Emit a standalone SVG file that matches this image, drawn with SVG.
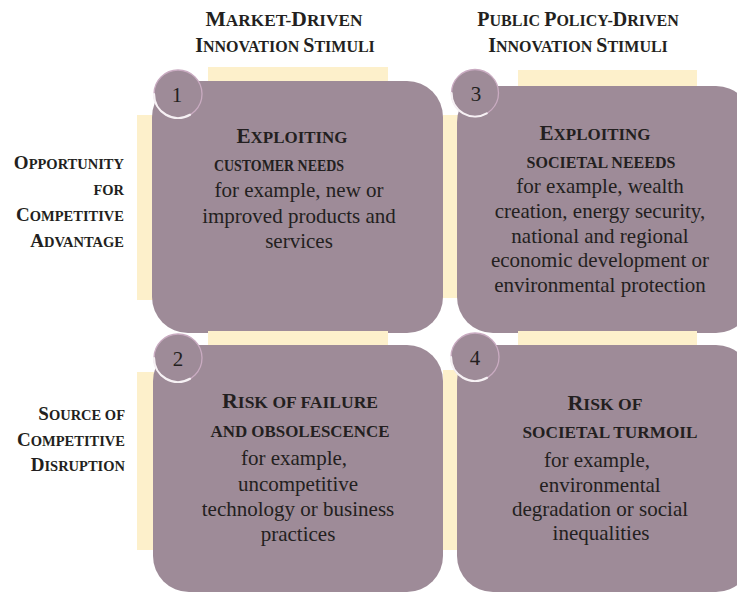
<svg xmlns="http://www.w3.org/2000/svg" width="737" height="594" viewBox="0 0 737 594">
<style>
.box{fill:#9e8b98}
.strip{fill:#fdf0cb}
.badge{fill:#9e8b98;stroke:#c9abc1;stroke-width:1.3}
.hl{fill:none;stroke:#f6f1f4;stroke-width:2.2;stroke-linecap:round}
text{font-family:"Liberation Serif","Times New Roman",serif;fill:#231f20}
.h{font-weight:bold;text-anchor:middle}
.lbl{font-weight:bold;text-anchor:end}
.b{font-size:21px;text-anchor:middle}
.num{font-size:21px;text-anchor:middle}
.L{font-size:20px}
.S{font-size:16px}
.l{font-size:19px}
.s{font-size:14.5px}
</style>
<g id="header-market">
<text class="h" x="284" y="26" textLength="157" lengthAdjust="spacingAndGlyphs"><tspan class="L">M</tspan><tspan class="S">ARKET-</tspan><tspan class="L">D</tspan><tspan class="S">RIVEN</tspan></text>
<text class="h" x="285" y="52"><tspan class="L">I</tspan><tspan class="S">NNOVATION </tspan><tspan class="L">S</tspan><tspan class="S">TIMULI</tspan></text>
</g>
<g id="header-policy">
<text class="h" x="578" y="26"><tspan class="L">P</tspan><tspan class="S">UBLIC </tspan><tspan class="L">P</tspan><tspan class="S">OLICY-</tspan><tspan class="L">D</tspan><tspan class="S">RIVEN</tspan></text>
<text class="h" x="578" y="52"><tspan class="L">I</tspan><tspan class="S">NNOVATION </tspan><tspan class="L">S</tspan><tspan class="S">TIMULI</tspan></text>
</g>
<g id="label-opportunity">
<text class="lbl" x="124" y="169"><tspan class="l">O</tspan><tspan class="s">PPORTUNITY</tspan></text>
<text class="lbl" x="124" y="195"><tspan class="s">FOR</tspan></text>
<text class="lbl" x="124" y="221"><tspan class="l">C</tspan><tspan class="s">OMPETITIVE</tspan></text>
<text class="lbl" x="124" y="247"><tspan class="l">A</tspan><tspan class="s">DVANTAGE</tspan></text>
</g>
<g id="label-disruption">
<text class="lbl" x="125" y="420"><tspan class="l">S</tspan><tspan class="s">OURCE OF</tspan></text>
<text class="lbl" x="125" y="446"><tspan class="l">C</tspan><tspan class="s">OMPETITIVE</tspan></text>
<text class="lbl" x="125" y="471"><tspan class="l">D</tspan><tspan class="s">ISRUPTION</tspan></text>
</g>
<g id="quadrant-1">
<rect class="strip" x="208" y="67" width="180" height="16"/>
<rect class="strip" x="137" y="115" width="17" height="185"/>
<rect class="box" x="152" y="81" width="291" height="252" rx="36"/>
<circle class="badge" cx="178" cy="94" r="24"/>
<path class="hl" d="M154,94 A24,24 0 0 0 190,114.8"/>
<text class="num" x="177" y="102">1</text>
<text class="h" x="292" y="143" textLength="111" lengthAdjust="spacingAndGlyphs"><tspan class="L">E</tspan><tspan class="S">XPLOITING</tspan></text>
<text class="h" x="279" y="171" textLength="130" lengthAdjust="spacingAndGlyphs"><tspan class="S">CUSTOMER NEEDS</tspan></text>
<text class="b" x="299" y="197">for example, new or</text>
<text class="b" x="299" y="223">improved products and</text>
<text class="b" x="299" y="248">services</text>
</g>
<g id="quadrant-3">
<rect class="strip" x="518" y="70" width="179" height="18"/>
<rect class="strip" x="443" y="115" width="16" height="183"/>
<rect class="box" x="457" y="86" width="295" height="247" rx="36"/>
<circle class="badge" cx="475" cy="93" r="23.5"/>
<path class="hl" d="M451.5,93 A23.5,23.5 0 0 0 486.75,113.35"/>
<text class="num" x="476" y="101">3</text>
<text class="h" x="595" y="140" textLength="111" lengthAdjust="spacingAndGlyphs"><tspan class="L">E</tspan><tspan class="S">XPLOITING</tspan></text>
<text class="h" x="601" y="168" textLength="149" lengthAdjust="spacingAndGlyphs"><tspan class="S">SOCIETAL NEEEDS</tspan></text>
<text class="b" x="600" y="193">for example, wealth</text>
<text class="b" x="600" y="218">creation, energy security,</text>
<text class="b" x="600" y="243">national and regional</text>
<text class="b" x="600" y="267">economic development or</text>
<text class="b" x="600" y="292">environmental protection</text>
</g>
<g id="quadrant-2">
<rect class="strip" x="208" y="331" width="180" height="16"/>
<rect class="strip" x="137" y="372" width="17" height="178"/>
<rect class="box" x="153" y="345" width="290" height="247" rx="36"/>
<circle class="badge" cx="178" cy="358" r="24"/>
<path class="hl" d="M154,358 A24,24 0 0 0 190,378.8"/>
<text class="num" x="178" y="366">2</text>
<text class="h" x="300" y="408" textLength="156" lengthAdjust="spacingAndGlyphs"><tspan class="L">R</tspan><tspan class="S">ISK OF FAILURE</tspan></text>
<text class="h" x="300" y="437" textLength="179" lengthAdjust="spacingAndGlyphs"><tspan class="S">AND OBSOLESCENCE</tspan></text>
<text class="b" x="294" y="465">for example,</text>
<text class="b" x="298" y="491">uncompetitive</text>
<text class="b" x="298" y="516">technology or business</text>
<text class="b" x="298" y="541">practices</text>
</g>
<g id="quadrant-4">
<rect class="strip" x="518" y="331" width="179" height="16"/>
<rect class="strip" x="443" y="370" width="16" height="180"/>
<rect class="box" x="457" y="345" width="295" height="247" rx="36"/>
<circle class="badge" cx="475" cy="357" r="24"/>
<path class="hl" d="M451,357 A24,24 0 0 0 487,377.8"/>
<text class="num" x="475" y="365">4</text>
<text class="h" x="605" y="410" textLength="75" lengthAdjust="spacingAndGlyphs"><tspan class="L">R</tspan><tspan class="S">ISK OF</tspan></text>
<text class="h" x="610" y="438" textLength="175" lengthAdjust="spacingAndGlyphs"><tspan class="S">SOCIETAL TURMOIL</tspan></text>
<text class="b" x="597" y="467">for example,</text>
<text class="b" x="600" y="492">environmental</text>
<text class="b" x="600" y="516">degradation or social</text>
<text class="b" x="601" y="540">inequalities</text>
</g>
<g id="connectors"/>
</svg>
